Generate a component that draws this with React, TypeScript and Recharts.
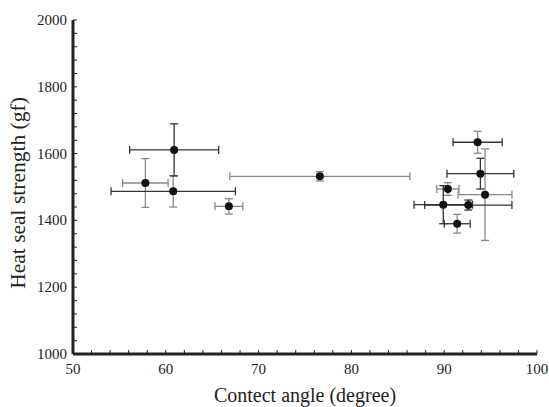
import React from "react";
import { ErrorBar, Scatter, ScatterChart, XAxis, YAxis } from "recharts";

// contact angle (deg) vs heat seal strength (gf)
const contactAngle = [60.9, 57.8, 60.8, 66.8, 76.6, 93.6, 93.9, 90.4, 94.4, 89.9, 92.6, 91.4];
const sealStrength = [1611, 1512, 1487, 1442, 1532, 1634, 1540, 1494, 1477, 1447, 1446, 1390];
const angleErr = [4.8, 2.45, 6.7, 1.5, 9.7, 2.65, 3.6, 1.2, 2.9, 3.15, 4.7, 1.4];
const strengthErr = [78, 73, 47, 23, 14, 33, 46, 19, 137, 57, 15, 28];
// which error bars are drawn dark (1) or grey (0)
const angleErrDark = [1, 0, 1, 0, 0, 1, 1, 0, 0, 1, 1, 1];
const strengthErrDark = [1, 0, 0, 0, 0, 0, 1, 0, 0, 1, 1, 0];

const xTicks = [50, 52, 54, 56, 58, 60, 62, 64, 66, 68, 70, 72, 74, 76, 78, 80, 82, 84, 86, 88, 90, 92, 94, 96, 98, 100];
const yTicks = [1000, 1040, 1080, 1120, 1160, 1200, 1240, 1280, 1320, 1360, 1400, 1440, 1480, 1520, 1560, 1600, 1640, 1680, 1720, 1760, 1800, 1840, 1880, 1920, 1960, 2000];

const data = contactAngle.map((angle, i) => ({
  angle,
  strength: sealStrength[i],
  exDark: angleErrDark[i] ? angleErr[i] : 0,
  exGrey: angleErrDark[i] ? 0 : angleErr[i],
  eyDark: strengthErrDark[i] ? strengthErr[i] : 0,
  eyGrey: strengthErrDark[i] ? 0 : strengthErr[i],
}));

const font = "'Liberation Serif', 'Times New Roman', serif";

const XTick = (props: any) => {
  const { x, y, payload } = props;
  const v = payload.value;
  const major = v % 10 === 0;
  return (
    <g>
      <line x1={x} x2={x} y1={y - 6} y2={y - 10} stroke="#222" strokeWidth={1} />
      {major && (
        <text x={x} y={y + 14} textAnchor="middle" fontSize={15} fontFamily={font} fill="#222">
          {v}
        </text>
      )}
    </g>
  );
};

const YTick = (props: any) => {
  const { x, y, payload } = props;
  const v = payload.value;
  const major = v % 200 === 0;
  return (
    <g>
      <line x1={x + 6} x2={x + 10} y1={y} y2={y} stroke="#222" strokeWidth={1} />
      {major && (
        <text x={x} y={y + 5} textAnchor="end" fontSize={15} fontFamily={font} fill="#222">
          {v}
        </text>
      )}
    </g>
  );
};

const YTitle = (props: any) => {
  const vb = props.viewBox || {};
  const cx = (vb.x ?? 0) + 25;
  const cy = (vb.y ?? 20) + (vb.height ?? 334) / 2 + 6;
  return (
    <text
      x={cx}
      y={cy}
      transform={`rotate(-90, ${cx}, ${cy})`}
      textAnchor="middle"
      fontSize={21.5}
      fontFamily={font}
      fill="#222"
    >
      Heat seal strength (gf)
    </text>
  );
};

export default function App() {
  return (
    <div style={{ position: "absolute", left: 0, top: 0, background: "#fff" }}>
      <ScatterChart width={549} height={407} margin={{ top: 20, right: 12, bottom: 3, left: 0 }}>
        <XAxis
          type="number"
          dataKey="angle"
          domain={[50, 100]}
          ticks={xTicks}
          interval={0}
          allowDataOverflow
          tickLine={false}
          tickSize={0}
          tickMargin={6}
          height={50}
          tick={<XTick />}
          axisLine={{ stroke: "#222", strokeWidth: 3 }}
          label={{
            value: "Contect angle (degree)",
            position: "insideBottom",
            offset: 2,
            fontSize: 20,
            fontFamily: font,
            fill: "#222",
          }}
        />
        <YAxis
          type="number"
          dataKey="strength"
          domain={[1000, 2000]}
          ticks={yTicks}
          interval={0}
          allowDataOverflow
          tickLine={false}
          tickSize={0}
          tickMargin={6}
          width={73}
          tick={<YTick />}
          axisLine={{ stroke: "#222", strokeWidth: 3 }}
          label={<YTitle />}
        />
        <Scatter data={data} fill="#111" isAnimationActive={false} shape={(p: any) => <circle cx={p.cx} cy={p.cy} r={4} fill="#111" />}>
          <ErrorBar dataKey="exGrey" direction="x" width={4} stroke="#888" strokeWidth={1.3} />
          <ErrorBar dataKey="eyGrey" direction="y" width={4} stroke="#888" strokeWidth={1.3} />
          <ErrorBar dataKey="exDark" direction="x" width={4} stroke="#333" strokeWidth={1.3} />
          <ErrorBar dataKey="eyDark" direction="y" width={4} stroke="#333" strokeWidth={1.3} />
        </Scatter>
      </ScatterChart>
    </div>
  );
}
